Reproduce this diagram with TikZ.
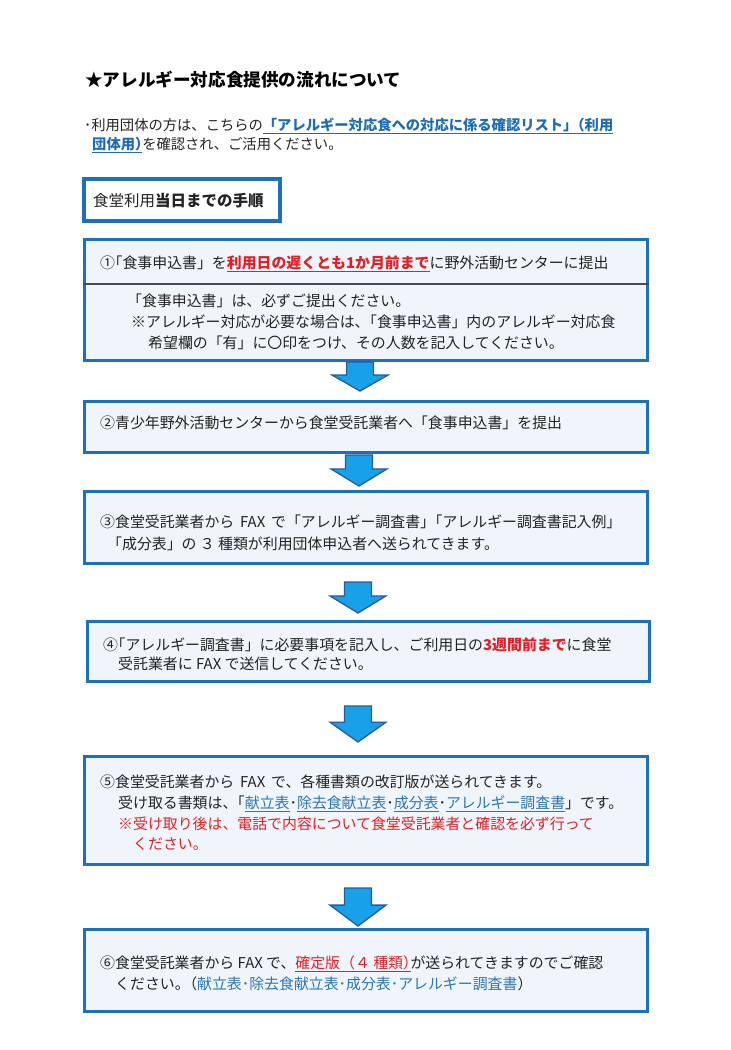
\documentclass[tikz,border=0pt]{standalone}
\usepackage{fontspec}
\setmainfont{Noto Sans CJK JP}
\newfontfamily\haltfont{Noto Sans CJK JP}[RawFeature=+halt]
\usetikzlibrary{calc}
\definecolor{boxblue}{RGB}{28,113,186}
\definecolor{boxfill}{RGB}{240,245,251}
\definecolor{arrfill}{RGB}{24,160,232}
\definecolor{arrline}{RGB}{40,92,152}
\definecolor{linkblue}{RGB}{30,108,180}
\definecolor{docblue}{RGB}{46,117,182}
\definecolor{alertred}{RGB}{228,30,36}
\definecolor{txt}{RGB}{35,35,35}
\newcommand\ulc[2]{{\color{#1}\underline{#2}}}
\newcommand\hp[1]{{\haltfont #1}}
\newcommand\blkarrow[3]{%
  \pgfmathsetmacro\ymid{#2+0.45*(#3-#2)}
  \draw[blkarrow] (#1-13.5,#2) -- (#1+13.5,#2) -- (#1+13.5,\ymid) -- (#1+28,\ymid)
    -- (#1,#3) -- (#1-28,\ymid) -- (#1-13.5,\ymid) -- cycle;}
\tikzset{
  stepbox/.style={draw=boxblue, line width=3pt, fill=boxfill, anchor=north west, inner sep=0pt},
  blkarrow/.style={fill=arrfill, draw=arrline, line width=1.3pt, line join=miter},
  ln/.style={anchor=base west, inner sep=0pt, text=txt, font=\fontsize{14.9}{17}\selectfont},
}
\begin{document}
\begin{tikzpicture}[x=1pt,y=-1pt]
\useasboundingbox (0,0) rectangle (731,1050);
\node[ln, font=\bfseries\fontsize{17.6}{20}\selectfont, text=black] (title) at (85,86) {★アレルギー対応食提供の流れについて};
\node[ln, font=\fontsize{14.3}{17}\selectfont] (intro1) at (84,130) {･利用団体の方は、こちらの\ulc{linkblue}{\bfseries 「アレルギー対応食への対応に係る確認リスト\hp{」}（利用}};
\node[ln, font=\fontsize{14.3}{17}\selectfont] (intro2) at (92,149) {\ulc{linkblue}{\bfseries 団体用\hp{）}}を確認され、ご活用ください。};

\node[stepbox, fill=white, line width=3.5pt, minimum width=196pt, minimum height=42pt] (head) at (82,177) {};
\node[ln, font=\fontsize{15.5}{18}\selectfont] (headtxt) at (93,206) {食堂利用\textbf{当日までの手順}};

% step 1
\node[stepbox, minimum width=563pt, minimum height=121pt] (box1) at (83,238) {};
\draw[gray!60!black, line width=1.2pt] (box1.west |- 0,284) -- (box1.east |- 0,284);
\node[ln] (s1a) at (100,268) {①\hp{「}食事申込書」を\ulc{alertred}{\bfseries 利用日の遅くとも1か月前まで}に野外活動センターに提出};
\node[ln] (s1b) at (127,306.5) {「食事申込書」は、必ずご提出ください。};
\node[ln] (s1c) at (131,327.5) {※アレルギー対応が必要な場合は\hp{、}「食事申込書」内のアレルギー対応食};
\node[ln] (s1d) at (148,348.5) {希望欄の「有」に〇印をつけ、その人数を記入してください。};
\blkarrow{360}{362}{391}

% step 2
\node[stepbox, minimum width=563pt, minimum height=51pt] (box2) at (83,400) {};
\node[ln] (s2a) at (100,428.5) {②青少年野外活動センターから食堂受託業者へ「食事申込書」を提出};
\blkarrow{359}{455}{486}

% step 3
\node[stepbox, minimum width=563pt, minimum height=72pt] (box3) at (83,490) {};
\node[ln] (s3a) at (100,527.5) {③食堂受託業者から \,FAX\, で「アレルギー調査書\hp{」}「アレルギー調査書記入例」};
\node[ln] (s3b) at (107,549.5) {「成分表」の ３ 種類が利用団体申込者へ送られてきます。};
\blkarrow{358}{582}{613}

% step 4
\node[stepbox, minimum width=562pt, minimum height=60pt] (box4) at (86,620) {};
\node[ln] (s4a) at (103,650.5) {④\hp{「}アレルギー調査書」に必要事項を記入し、ご利用日の{\color{alertred}\bfseries 3週間前まで}に食堂};
\node[ln] (s4b) at (118,669.5) {受託業者に FAX で送信してください。};
\blkarrow{358}{706}{742}

% step 5
\node[stepbox, minimum width=563pt, minimum height=108pt] (box5) at (83,755) {};
\node[ln] (s5a) at (100,787.5) {⑤食堂受託業者から \,FAX\, で、各種書類の改訂版が送られてきます。};
\node[ln] (s5b) at (118,808.5) {受け取る書類は\hp{、}「\ulc{docblue}{献立表}･\ulc{docblue}{除去食献立表}･\ulc{docblue}{成分表}･\ulc{docblue}{アレルギー調査書}」です。};
\node[ln, text=alertred] (s5c) at (118,829.5) {※受け取り後は、電話で内容について食堂受託業者と確認を必ず行って};
\node[ln, text=alertred] (s5d) at (133,849.5) {ください。};
\blkarrow{358}{888}{926}

% step 6
\node[stepbox, minimum width=563pt, minimum height=82pt] (box6) at (83,928) {};
\node[ln] (s6a) at (100,968.5) {⑥食堂受託業者から FAX で、\ulc{alertred}{確定版（４ 種類\hp{）}}が送られてきますのでご確認};
\node[ln] (s6b) at (115,989.5) {ください\hp{。}（{\color{docblue}献立表･除去食献立表･成分表･アレルギー調査書}）};
\end{tikzpicture}
\end{document}
